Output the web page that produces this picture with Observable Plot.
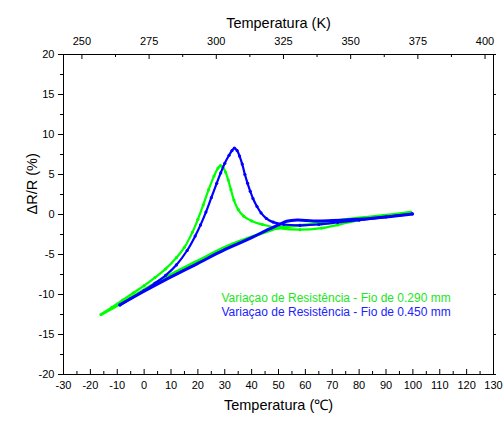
<!DOCTYPE html>
<html><head><meta charset="utf-8">
<script src="https://cdn.jsdelivr.net/npm/d3@7"></script>
<script src="https://cdn.jsdelivr.net/npm/@observablehq/plot@0.6"></script>
<style>body{margin:0;background:#fff} svg, svg text{font-family:"Liberation Sans",Arial,Helvetica,sans-serif !important}</style>
</head><body><div id="chart"></div>
<script>
// Tick values
const xTicksC = [-30,-20,-10,0,10,20,30,40,50,60,70,80,90,100,110,120,130];
const xMinorC = [-25,-15,-5,5,15,25,35,45,55,65,75,85,95,105,115,125];
const yTicks = [-20,-15,-10,-5,0,5,10,15,20];
const yMinor = [-17.5,-12.5,-7.5,-2.5,2.5,7.5,12.5,17.5];
const kTicks = [250,275,300,325,350,375,400];
const kMinor = [262.5,287.5,312.5,337.5,362.5,387.5];

// Fio 0.290 mm (green) - heating branch
const gHeatT = [-16,-12,-8,-4,0,4,8,12,15,18,20,22,24,26,27.5,28.4,29.3,30.3,31.3,32.3,33.4,35,37,40,44,50,58,66,72,80,90,99.2];
const gHeatR = [-12.5,-11.6,-10.7,-9.8,-8.9,-7.9,-6.8,-5.4,-4.1,-2.2,-0.6,1.2,3.1,4.8,5.8,6.1,5.9,5.3,4.3,3.1,1.8,0.6,-0.2,-0.8,-1.25,-1.7,-1.9,-1.7,-1.3,-0.7,-0.25,0.27];
// Fio 0.290 mm (green) - cooling branch
const gCoolT = [99.2,90,80,70,60,55,50,45,40,30,20,10,0,-8,-16];
const gCoolR = [0.27,-0.1,-0.45,-0.85,-1.3,-1.45,-1.65,-2.2,-2.8,-4.1,-5.8,-7.5,-9.4,-11.0,-12.5];
// Fio 0.450 mm (blue) - heating branch
const bHeatT = [-9,-5,0,4,8,12,16,19,21,23,25,27,28.5,30,31.6,32.7,33.6,34.6,35.5,36.5,37.5,38.5,39.5,40.5,42,43.5,45.5,48,52,58,65,72,80,90,99.8];
const bHeatR = [-11.3,-10.5,-9.5,-8.6,-7.6,-6.3,-4.5,-2.7,-1.3,0.3,2.1,3.9,5.2,6.4,7.4,8.0,8.3,8.0,7.3,6.3,5.0,3.9,2.9,2.0,1.0,0.2,-0.5,-0.95,-1.25,-1.35,-1.25,-1.0,-0.7,-0.3,0.07];
// Fio 0.450 mm (blue) - cooling branch
const bCoolT = [99.8,90,80,70,63,57,53,50,46,40,30,20,10,0,-9];
const bCoolR = [0.07,-0.3,-0.6,-0.75,-0.8,-0.68,-0.85,-1.3,-1.9,-2.9,-4.4,-6.1,-7.8,-9.6,-11.3];

const legendLabels = ["Variaçao de Resistência - Fio de 0.290 mm","Variaçao de Resistência - Fio de 0.450 mm"];
const colors = ["#00ff00","#0000ff"];
const textColors = ["#22e622","#2222ff"];

const zip = (T,R) => T.map((t,i)=>({t, r:R[i]}));
const gHeat = zip(gHeatT,gHeatR), gCool = zip(gCoolT,gCoolR);
const bHeat = zip(bHeatT,bHeatR), bCool = zip(bCoolT,bCoolR);

const W=503, H=421, mL=63, mR=10, mT=54, mB=47;
const uy = 40/(H-mT-mB);   // y units per pixel
const ux = 160/(W-mL-mR);  // x units per pixel
const K0 = 273.15;
const FF = '"Liberation Sans", Arial, sans-serif';

const lineOpts = (c, w) => ({x:"t", y:"r", stroke:c, strokeWidth:w, curve:"catmull-rom"});
const dotOpts = (c) => ({x:"t", y:"r", fill:c, r:1.6});

const chart = Plot.plot({
  width: W, height: H,
  marginLeft: mL, marginRight: mR, marginTop: mT, marginBottom: mB,
  style: {fontFamily: FF, background: "#fff"},
  x: {domain: [-30,130]},
  y: {domain: [-20,20]},
  marks: [
    Plot.line(gCool, lineOpts(colors[0], 3)),
    Plot.line(gHeat, lineOpts(colors[0], 2.2)),
    Plot.dot(gHeat, dotOpts(colors[0])),
    Plot.line(bCool, lineOpts(colors[1], 3)),
    Plot.line(bHeat, lineOpts(colors[1], 2.2)),
    Plot.dot(bHeat, dotOpts(colors[1])),
    Plot.frame({stroke:"#000", strokeWidth:1}),
    // bottom ticks (inward)
    Plot.ruleX(xTicksC, {x: d=>d, y1: -20, y2: -20 + 5*uy, stroke:"#000"}),
    Plot.ruleX(xMinorC, {x: d=>d, y1: -20, y2: -20 + 3*uy, stroke:"#000"}),
    // top ticks (inward)
    Plot.ruleX(kTicks, {x: d=>d-K0, y1: 20, y2: 20 - 5*uy, stroke:"#000"}),
    Plot.ruleX(kMinor, {x: d=>d-K0, y1: 20, y2: 20 - 3*uy, stroke:"#000"}),
    // left ticks (outward)
    Plot.ruleY(yTicks, {y: d=>d, x1: -30, x2: -30 - 5*ux, stroke:"#000"}),
    Plot.ruleY(yMinor, {y: d=>d, x1: -30, x2: -30 - 3*ux, stroke:"#000"}),
    // right ticks
    Plot.ruleY(yTicks, {y: d=>d, x1: 130, x2: 130 + 3*ux, stroke:"#000"}),
    Plot.axisX({ticks: xTicksC, tickSize: 0, tickPadding: 7, label: null, fontSize: 11, fontFamily: FF, tickFormat: d=>String(d)}),
    Plot.axisX({anchor: "top", ticks: kTicks.map(k=>k-K0), tickSize: 0, tickPadding: 10, label: null, fontSize: 11, fontFamily: FF, tickFormat: d=>String(Math.round(d+K0))}),
    Plot.axisY({ticks: yTicks, tickSize: 0, tickPadding: 9, label: null, fontSize: 11, fontFamily: FF, tickFormat: d=>String(d)}),
    Plot.text(["Temperatura (K)"], {frameAnchor: "top", dy: -37, fontSize: 14.5, fontFamily: FF}),
    Plot.text(["Temperatura (℃)"], {frameAnchor: "bottom", dy: 35, fontSize: 14.5, fontFamily: FF}),
    Plot.text(["ΔR/R (%)"], {frameAnchor: "left", dx: -31, rotate: -90, fontSize: 14.5, fontFamily: FF}),
    Plot.text([legendLabels[0]], {frameAnchor: "top-left", dx: 158, dy: 239, textAnchor: "start", fill: textColors[0], fontSize: 12, fontFamily: FF}),
    Plot.text([legendLabels[1]], {frameAnchor: "top-left", dx: 158, dy: 252.5, textAnchor: "start", fill: textColors[1], fontSize: 12, fontFamily: FF})
  ]
});
document.getElementById("chart").appendChild(chart);
</script>
</body></html>
